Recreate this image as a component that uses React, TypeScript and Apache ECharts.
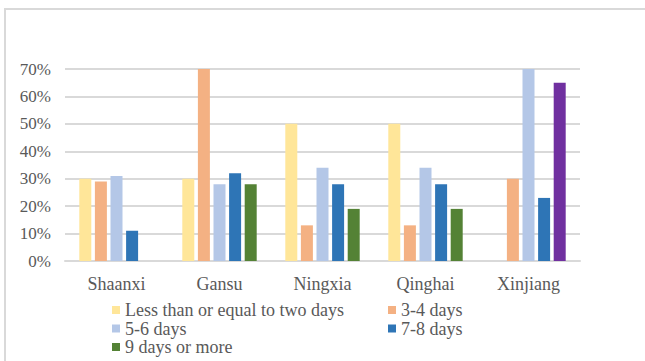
import React, { useEffect, useRef } from "react";
import * as echarts from "echarts";

const categories = ["Shaanxi", "Gansu", "Ningxia", "Qinghai", "Xinjiang"];
const seriesNames = [
  "Less than or equal to two days",
  "3-4 days",
  "5-6 days",
  "7-8 days",
  "9 days or more",
];
const lessOrEqualTwo = [30, 30, 50, 50, 0];
const threeToFour = [29, 70, 13, 13, 30];
const fiveToSix = [31, 28, 34, 34, 70];
const sevenToEight = [11, 32, 28, 28, 23];
const nineOrMore = [0, 28, 19, 19, 65];
const yTicks = [0, 10, 20, 30, 40, 50, 60, 70];

const colors = ["#FFE699", "#F4B183", "#B4C7E7", "#2E75B6", "#548235"];
const highlightColor = "#7030A0";
const highlightIndex = 4; // Xinjiang bar in last series drawn purple

export default function App() {
  const ref = useRef<HTMLDivElement>(null);
  useEffect(() => {
    document.body.style.margin = "0";
    const chart = echarts.init(ref.current!, null, { renderer: "svg" });
    const all = [lessOrEqualTwo, threeToFour, fiveToSix, sevenToEight, nineOrMore];
    const font = "Times New Roman, Liberation Serif, DejaVu Serif, serif";
    const series = all.map((arr, si) => ({
      name: seriesNames[si],
      type: "bar",
      barWidth: 12,
      barGap: "30%",
      itemStyle: { color: colors[si] },
      data: arr.map((v, i) =>
        si === 4 && i === highlightIndex
          ? { value: v, itemStyle: { color: highlightColor } }
          : v
      ),
    }));
    const legendText = { color: "#595959", fontFamily: font, fontSize: 18, lineHeight: 18 };
    chart.setOption({
      animation: false,
      color: colors,
      graphic: [
        {
          type: "rect",
          shape: { x: 5, y: 9, width: 700, height: 400 },
          style: { fill: "none", stroke: "#d9d9d9", lineWidth: 2 },
          silent: true,
        },
      ],
      grid: { left: 65, right: 65, top: 69, bottom: 100 },
      xAxis: {
        type: "category",
        data: categories,
        axisLine: { lineStyle: { color: "#d9d9d9", width: 2 } },
        axisTick: { show: false },
        axisLabel: {
          color: "#595959",
          fontFamily: font,
          fontSize: 18,
          margin: 14,
        },
      },
      yAxis: {
        type: "value",
        min: yTicks[0],
        max: yTicks[yTicks.length - 1],
        interval: 10,
        axisLine: { show: false },
        axisTick: { show: false },
        splitLine: { lineStyle: { color: "#d9d9d9", width: 2 } },
        axisLabel: {
          color: "#595959",
          fontFamily: font,
          fontSize: 17,
          margin: 14,
          formatter: "{value}%",
        },
      },
      legend: [
        {
          data: [seriesNames[0], seriesNames[2], seriesNames[4]],
          orient: "vertical",
          left: 112,
          top: 301,
          height: 80,
          padding: 0,
          itemWidth: 8,
          itemHeight: 8,
          itemGap: 0.5,
          icon: "rect",
          textStyle: legendText,
        },
        {
          data: [seriesNames[1], seriesNames[3]],
          orient: "vertical",
          left: 388,
          top: 301,
          height: 80,
          padding: 0,
          itemWidth: 8,
          itemHeight: 8,
          itemGap: 0.5,
          icon: "rect",
          textStyle: legendText,
        },
      ],
      series,
    });
    return () => chart.dispose();
  }, []);
  return <div ref={ref} style={{ width: 645, height: 361 }} />;
}
